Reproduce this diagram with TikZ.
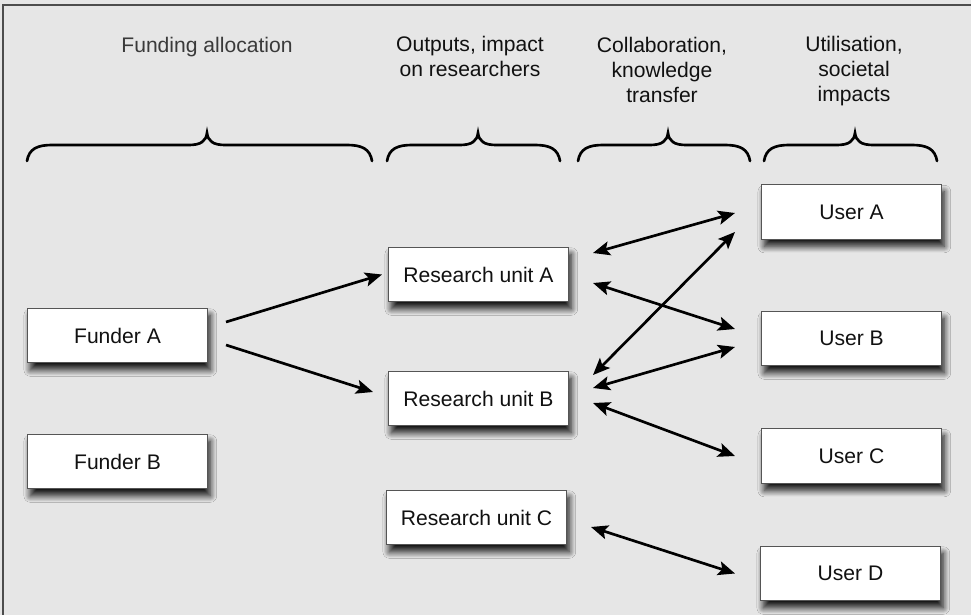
\documentclass[tikz,border=0pt]{standalone}
\usepackage{fontspec}
\setmainfont{Liberation Sans}
\usetikzlibrary{arrows.meta,calc,shadows.blur}
\definecolor{panel}{HTML}{E6E6E6}
\definecolor{frame}{HTML}{4D4D4D}
\definecolor{boxline}{HTML}{555555}
\definecolor{ink}{HTML}{111111}
\definecolor{softink}{HTML}{3A3A3A}
\tikzset{
  unitbox/.style={draw=boxline, fill=white, line width=0.7pt, minimum width=4.5cm,
                  minimum height=1.37cm, font=\fontsize{15}{18}\selectfont, text=ink,
                  blur shadow={shadow xshift=2pt, shadow yshift=-5pt,
                               shadow blur radius=4.5pt, shadow blur steps=12, shadow opacity=90}},
  head/.style={align=center, font=\fontsize{15}{17.8}\selectfont, text=ink, inner sep=0pt, anchor=base},
  brc/.style={line width=1.9pt, line cap=round, draw=black},
  ar/.style={-{Stealth[length=12pt, width=10pt, inset=2.5pt]}, line width=1.9pt, draw=black},
  dar/.style={{Stealth[length=12pt, width=10pt, inset=2.5pt]}-{Stealth[length=12pt, width=10pt, inset=2.5pt]},
              line width=1.9pt, draw=black}
}
% curly bracket over a column: left end, tip, right end
\newcommand{\headbrace}[3]{%
  \draw[brc] (#1,161) .. controls (#1+2,149) and (#1+10,145) .. (#1+25,145)
    -- (#2-18,145) .. controls (#2-6,145) and (#2-1,141) .. (#2,133)
    .. controls (#2+1,141) and (#2+6,145) .. (#2+18,145)
    -- (#3-25,145) .. controls (#3-10,145) and (#3-2,149) .. (#3,161);}

\begin{document}
\begin{tikzpicture}[x=0.025cm,y=-0.025cm]
  \useasboundingbox (0,0) rectangle (971,615);
  \fill[panel] (0,0) rectangle (971,615);
  \draw[frame, line width=1pt] (3,615) -- (3,5) -- (971,5);

  % column headings (placed on the baseline of their last line)
  \node[head, text=softink] (hdfund) at (207,53) {Funding allocation};
  \node[head] (hdout) at (470,77) {Outputs, impact\\on researchers};
  \node[head] (hdcollab) at (662,103) {Collaboration,\\knowledge\\transfer};
  \node[head] (hduse) at (854,102) {Utilisation,\\societal\\impacts};

  \headbrace{27}{207}{372}
  \headbrace{387}{478}{560}
  \headbrace{578}{668}{750}
  \headbrace{764}{855}{937}

  % funders
  \node[unitbox] (funda) at (117.5,335.5) {Funder A};
  \node[unitbox] (fundb) at (117.5,461.5) {Funder B};

  % research units
  \node[unitbox] (rua) at (478.5,274.5) {Research unit A};
  \node[unitbox] (rub) at (478.5,398.5) {Research unit B};
  \node[unitbox] (ruc) at (476.5,517.5) {Research unit C};

  % users
  \node[unitbox] (usera) at (851.5,212) {User A};
  \node[unitbox] (userb) at (851.5,338.5) {User B};
  \node[unitbox] (userc) at (851.5,456) {User C};
  \node[unitbox] (userd) at (850.5,573.5) {User D};

  \draw[ar] ($(funda.east)+(18,-13.5)$) -- ($(rua.west)+(-6,0)$);
  \draw[ar] ($(funda.east)+(18,9.5)$) -- ($(rub.west)+(-15,-6.5)$);

  \draw[dar] ($(rua.east)+(24,-21.5)$) -- ($(usera.west)+(-26,1)$);
  \draw[dar] ($(rua.east)+(24,8.5)$) -- ($(userb.west)+(-26,-9.5)$);
  \draw[dar] ($(rub.east)+(24,-23.5)$) -- ($(usera.west)+(-26,20)$);
  \draw[dar] ($(rub.east)+(24,-10.5)$) -- ($(userb.west)+(-26,8.5)$);
  \draw[dar] ($(rub.east)+(24,4.5)$) -- ($(userc.west)+(-26,0)$);
  \draw[dar] ($(ruc.east)+(24,9.5)$) -- ($(userd.west)+(-25,0)$);
\end{tikzpicture}
\end{document}
